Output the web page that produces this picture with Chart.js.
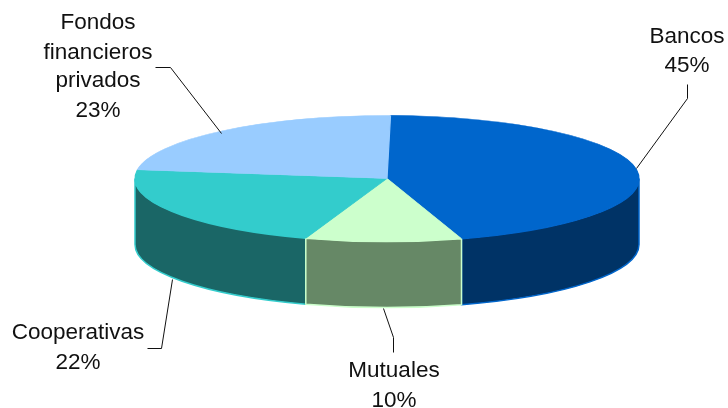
<!DOCTYPE html>
<html>
<head>
<meta charset="utf-8">
<script src="https://cdn.jsdelivr.net/npm/chart.js@4"></script>
<style>
  html, body { margin: 0; padding: 0; background: #fff; }
  canvas { display: block; }
</style>
</head>
<body>
<canvas id="pie" width="728" height="408"></canvas>
<script>
// Data
const categories = ['Bancos', 'Mutuales', 'Cooperativas', 'Fondos financieros privados'];
const shares = [45, 10, 22, 23];
const topColors = ['#0066CC', '#CCFFCC', '#33CCCC', '#99CCFF'];
const wallColors = ['#003366', '#668866', '#1A6666', '#4D6680'];

// Where the flattened pie sits on the page
const disc = { cx: 387, cy: 178.5, rx: 252, ry: 63, depth: 66 };

// Label text lines, baselines and leader lines, same order as categories
const labelLayout = [
  { x: 687, lines: [[categories[0], 43], [shares[0] + '%', 72]],
    leader: [[687, 84], [687, 98], [636, 168]] },
  { x: 394, lines: [[categories[1], 377], [shares[1] + '%', 407]],
    leader: [[393, 352], [393, 337], [383, 308]] },
  { x: 78, lines: [[categories[2], 339], [shares[2] + '%', 369]],
    leader: [[147, 348], [161, 348], [172, 279]] },
  { x: 98, lines: [['Fondos', 29], ['financieros', 59], ['privados', 87], [shares[3] + '%', 117]],
    leader: [[155, 67], [170, 67], [221, 133]] }
];

// Draws the side wall under the pie, then squashes the real arcs into an ellipse
const pie3d = {
  id: 'pie3d',
  beforeDatasetDraw(chart) {
    const ctx = chart.ctx;
    const arcs = chart.getDatasetMeta(0).data;

    // the small front slice goes last so its light edges stay on top
    [0, 2, 3, 1].forEach(i => {
      const arc = arcs[i];
      const from = Math.max(arc.startAngle, 0);
      const to = Math.min(arc.endAngle, Math.PI);
      if (to <= from) return;
      ctx.beginPath();
      ctx.ellipse(disc.cx, disc.cy, disc.rx, disc.ry, 0, from, to);
      ctx.ellipse(disc.cx, disc.cy + disc.depth, disc.rx, disc.ry, 0, to, from, true);
      ctx.closePath();
      ctx.fillStyle = wallColors[i];
      ctx.fill();
      ctx.strokeStyle = topColors[i];
      ctx.lineWidth = 1.5;
      ctx.stroke();
    });

    const a = arcs[0];
    ctx.save();
    ctx.translate(disc.cx, disc.cy);
    ctx.scale(disc.rx / a.outerRadius, disc.ry / a.outerRadius);
    ctx.translate(-a.x, -a.y);
  },
  afterDatasetDraw(chart) {
    chart.ctx.restore();
  },
  afterDraw(chart) {
    const ctx = chart.ctx;
    ctx.save();
    ctx.fillStyle = '#111';
    ctx.strokeStyle = '#111';
    ctx.lineWidth = 1;
    ctx.font = '22.5px "Liberation Sans"';
    ctx.textAlign = 'center';
    ctx.textBaseline = 'alphabetic';
    labelLayout.forEach(label => {
      label.lines.forEach(line => ctx.fillText(line[0], label.x, line[1]));
      ctx.beginPath();
      label.leader.forEach((p, i) => {
        if (i === 0) ctx.moveTo(p[0] + 0.5, p[1] + 0.5);
        else ctx.lineTo(p[0] + 0.5, p[1] + 0.5);
      });
      ctx.stroke();
    });
    ctx.restore();
  }
};

new Chart(document.getElementById('pie'), {
  type: 'pie',
  data: {
    labels: categories,
    datasets: [{
      data: shares,
      backgroundColor: topColors,
      borderColor: topColors,
      borderWidth: 1,
      clip: false
    }]
  },
  options: {
    responsive: false,
    animation: false,
    events: [],
    rotation: 0.8,
    plugins: {
      legend: { display: false },
      tooltip: { enabled: false }
    }
  },
  plugins: [pie3d]
});
</script>
</body>
</html>
